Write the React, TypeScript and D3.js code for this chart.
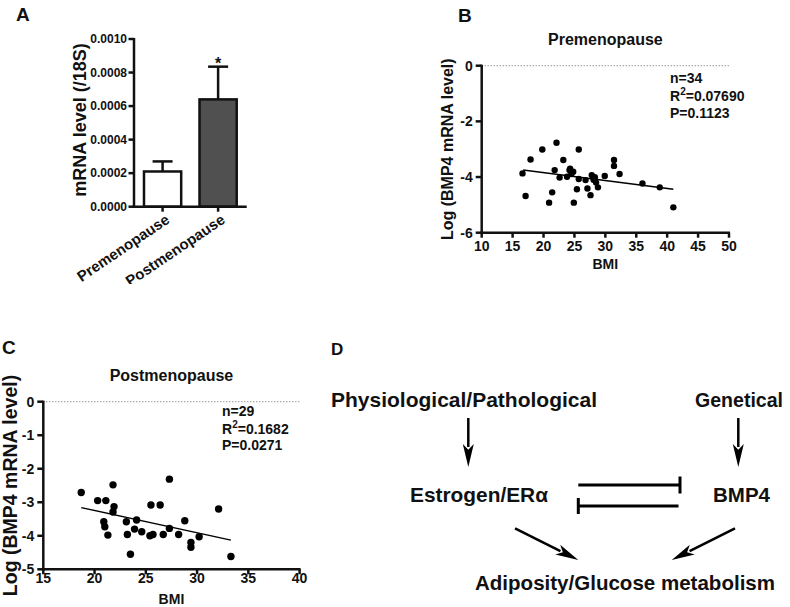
import React from 'react';
import * as d3 from 'd3';

const F = "'Liberation Sans', Arial, Helvetica, sans-serif";

// Panel A
const groupsA = ['Premenopause', 'Postmenopause'];
const meansA = [0.00021, 0.00064];
const errA = [0.00006, 0.000195];
const fillsA = ['#ffffff', '#505050'];
const ticksA = [0, 0.0002, 0.0004, 0.0006, 0.0008, 0.001];

// Panel B (premenopause)
const bmiPre = [16.6, 17.1, 17.9, 19.8, 22.1, 21.4, 20.9, 21.8, 22.6, 23.2, 23.8, 24.2, 24.8, 24.5, 24.9, 25.4, 25.7, 25.7, 26.8, 27.1, 27.6, 27.8, 28.3, 28.5, 28.8, 29.9, 31.4, 31.4, 32.3, 36.0, 38.8, 41.0, 24.3, 28.1];
const logPre = [-3.87, -4.68, -3.37, -3.01, -2.77, -4.55, -4.92, -3.75, -4.02, -3.39, -3.99, -3.75, -3.81, -3.89, -4.92, -4.44, -3.01, -4.07, -4.11, -4.41, -4.65, -3.93, -4.01, -4.2, -4.37, -3.96, -3.39, -3.6, -3.89, -4.23, -4.37, -5.09, -3.7, -4.1];
const fitPreX = [16.7, 41.0];
const fitPreY = [-3.75, -4.44];
const ticksPreX = [10, 15, 20, 25, 30, 35, 40, 45, 50];
const ticksPreY = [0, -2, -4, -6];
const statsPre = ['n=34', '0.07690', 'P=0.1123'];

// Panel C (postmenopause)
const bmiPost = [18.7, 20.3, 21.1, 21.8, 21.9, 21.8, 20.9, 21.0, 21.3, 23.1, 23.2, 23.5, 23.9, 24.1, 24.6, 25.5, 25.4, 25.7, 26.4, 26.7, 27.3, 27.3, 28.2, 28.8, 29.4, 29.4, 30.2, 32.1, 33.3];
const logPost = [-2.71, -2.95, -2.95, -2.48, -3.13, -3.29, -3.58, -3.73, -3.98, -3.58, -3.96, -4.55, -3.8, -3.53, -3.88, -3.08, -4.0, -3.96, -3.08, -3.96, -2.31, -3.78, -3.96, -3.55, -4.2, -4.34, -4.03, -3.2, -4.62];
const fitPostX = [18.7, 33.3];
const fitPostY = [-3.16, -4.13];
const ticksPostX = [15, 20, 25, 30, 35, 40];
const ticksPostY = [0, -1, -2, -3, -4, -5];
const statsPost = ['n=29', '0.1682', 'P=0.0271'];

type SP = {
  xs: number[]; ys: number[]; fitX: number[]; fitY: number[];
  xDomain: [number, number]; yDomain: [number, number];
  xRange: [number, number]; yRange: [number, number];
  xTicks: number[]; yTicks: number[];
  title: string; titleY: number; stats: string[]; statsX: number; statsYs: number[];
  yLabelX: number; yLabelSize: number; xLabelY: number; xTickY: number; r: number;
};

function Scatter(p: SP) {
  const x = d3.scaleLinear().domain(p.xDomain).range(p.xRange);
  const y = d3.scaleLinear().domain(p.yDomain).range(p.yRange);
  const [x0, x1] = p.xRange;
  const [yb, yt] = p.yRange;
  const fit = d3.line()(p.fitX.map((v, i) => [x(v), y(p.fitY[i])] as [number, number])) || '';
  const cx = (x0 + x1) / 2;
  const cy = (yb + yt) / 2;
  return (
    <g fontFamily={F} fontWeight="bold" fill="#111">
      <line x1={x0} x2={x1} y1={y(0)} y2={y(0)} stroke="#666" strokeWidth={1} strokeDasharray="1,2" />
      {p.yTicks.map(t => (
        <g key={'y' + t}>
          <line x1={x0 - 6} x2={x0} y1={y(t)} y2={y(t)} stroke="#111" strokeWidth={2.5} />
          <text x={x0 - 9} y={y(t)} dy="0.36em" textAnchor="end" fontSize={14}>{t === 0 ? '0' : '-' + Math.abs(t)}</text>
        </g>
      ))}
      {p.xTicks.map(t => (
        <g key={'x' + t}>
          <line x1={x(t)} x2={x(t)} y1={yb} y2={yb + 5} stroke="#111" strokeWidth={2.5} />
          <text x={x(t)} y={p.xTickY} textAnchor="middle" fontSize={14}>{t}</text>
        </g>
      ))}
      <line x1={x0} x2={x0} y1={yt - 1} y2={yb + 1.25} stroke="#111" strokeWidth={2.5} />
      <line x1={x0 - 1.25} x2={x1 + 1} y1={yb} y2={yb} stroke="#111" strokeWidth={2.5} />
      {p.xs.map((v, i) => (
        <circle key={i} cx={x(v)} cy={y(p.ys[i])} r={p.r} fill="#000" />
      ))}
      <path d={fit} stroke="#000" strokeWidth={1.5} fill="none" />
      <text x={cx} y={p.titleY} textAnchor="middle" fontSize={16}>{p.title}</text>
      <text x={cx} y={p.xLabelY} textAnchor="middle" fontSize={14}>BMI</text>
      <text transform={`translate(${p.yLabelX},${cy}) rotate(-90)`} textAnchor="middle" fontSize={p.yLabelSize}>Log (BMP4 mRNA level)</text>
      <text x={p.statsX} y={p.statsYs[0]} fontSize={14}>{p.stats[0]}</text>
      <text x={p.statsX} y={p.statsYs[1]} fontSize={14}>R<tspan dy={-6} fontSize={10}>2</tspan><tspan dy={6}>={p.stats[1]}</tspan></text>
      <text x={p.statsX} y={p.statsYs[2]} fontSize={14}>{p.stats[2]}</text>
    </g>
  );
}

function PanelA() {
  const y = d3.scaleLinear().domain([0, 0.001]).range([206.7, 39]);
  const x = d3.scaleBand().domain(groupsA).range([134, 246.7]).paddingInner(0.33).paddingOuter(0.18);
  const bw = x.bandwidth();
  const y0 = y(0);
  return (
    <g fontFamily={F} fontWeight="bold" fill="#111">
      <defs>
        <clipPath id="clipA"><rect x={0} y={0} width={300} height={284} /></clipPath>
      </defs>
      {ticksA.map(t => (
        <g key={t}>
          <line x1={128.5} x2={134} y1={y(t)} y2={y(t)} stroke="#111" strokeWidth={2.5} />
          <text x={127} y={y(t)} dy="0.36em" textAnchor="end" fontSize={12}>{t.toFixed(4)}</text>
        </g>
      ))}
      {groupsA.map((g, i) => {
        const bx = x(g) as number;
        const cx = bx + bw / 2;
        const top = y(meansA[i]);
        const et = y(meansA[i] + errA[i]);
        return (
          <g key={g}>
            <line x1={cx} x2={cx} y1={top} y2={et} stroke="#111" strokeWidth={2.5} />
            <line x1={cx - 10} x2={cx + 10} y1={et} y2={et} stroke="#111" strokeWidth={2.5} />
            <rect x={bx} y={top} width={bw} height={y0 - top} fill={fillsA[i]} stroke="#111" strokeWidth={2.5} />
            <line x1={cx} x2={cx} y1={y0} y2={y0 + 5} stroke="#111" strokeWidth={2.5} />
            <g clipPath="url(#clipA)">
              <text transform={`translate(${cx + 8},${222}) rotate(-34)`} textAnchor="end" fontSize={15}>{g}</text>
            </g>
          </g>
        );
      })}
      <text x={(x('Postmenopause') as number) + bw / 2} y={69} textAnchor="middle" fontSize={16}>*</text>
      <line x1={134} x2={134} y1={38} y2={y0 + 1.25} stroke="#111" strokeWidth={2.5} />
      <line x1={132.75} x2={246.7} y1={y0} y2={y0} stroke="#111" strokeWidth={2.5} />
      <text transform={`translate(86,120) rotate(-90)`} textAnchor="middle" fontSize={18}>mRNA level (/18S)</text>
    </g>
  );
}

function Arrow({ x1, y1, x2, y2 }: { x1: number; y1: number; x2: number; y2: number }) {
  const a = Math.atan2(y2 - y1, x2 - x1);
  const L = 23, W = 5.5;
  const bx = x2 - L * Math.cos(a), by = y2 - L * Math.sin(a);
  const px = -Math.sin(a) * W, py = Math.cos(a) * W;
  return (
    <g>
      <line x1={x1} y1={y1} x2={bx + 3 * Math.cos(a)} y2={by + 3 * Math.sin(a)} stroke="#000" strokeWidth={2.5} />
      <path d={`M${x2},${y2}L${bx + px},${by + py}L${bx + L * 0.25 * Math.cos(a)},${by + L * 0.25 * Math.sin(a)}L${bx - px},${by - py}Z`} fill="#000" />
    </g>
  );
}

function PanelD() {
  return (
    <g fontFamily={F} fontWeight="bold" fill="#111">
      <text x={331} y={355} fontSize={17}>D</text>
      <text x={331} y={407} fontSize={20.5} textLength={266} lengthAdjust="spacingAndGlyphs">Physiological/Pathological</text>
      <text x={695} y={407} fontSize={20.5} textLength={88} lengthAdjust="spacingAndGlyphs">Genetical</text>
      <Arrow x1={468.3} y1={418} x2={468.3} y2={467} />
      <Arrow x1={738.3} y1={418} x2={738.3} y2={467} />
      <text x={410} y={501.5} fontSize={20.5} textLength={138} lengthAdjust="spacingAndGlyphs">Estrogen/ERα</text>
      <text x={713} y={501.5} fontSize={20.5} textLength={57} lengthAdjust="spacingAndGlyphs">BMP4</text>
      <line x1={578.3} x2={680} y1={485} y2={485} stroke="#000" strokeWidth={3} />
      <line x1={680} x2={680} y1={476.5} y2={493.5} stroke="#000" strokeWidth={3} />
      <line x1={578.3} x2={678.5} y1={506} y2={506} stroke="#000" strokeWidth={3} />
      <line x1={578.3} x2={578.3} y1={498} y2={514} stroke="#000" strokeWidth={3} />
      <Arrow x1={515} y1={528.3} x2={578.3} y2={560} />
      <Arrow x1={735} y1={528.3} x2={671.7} y2={560} />
      <text x={475} y={590} fontSize={20.5} textLength={300} lengthAdjust="spacingAndGlyphs">Adiposity/Glucose metabolism</text>
    </g>
  );
}

export default function App() {
  return (
    <svg width={790} height={607} style={{ position: 'absolute', left: 0, top: 0, background: '#fff' }}>
      <rect x={0} y={0} width={790} height={607} fill="#fff" />
      <text x={16} y={21} fontFamily={F} fontWeight="bold" fontSize={19} fill="#111">A</text>
      <text x={458} y={22} fontFamily={F} fontWeight="bold" fontSize={19} fill="#111">B</text>
      <text x={2} y={354} fontFamily={F} fontWeight="bold" fontSize={19} fill="#111">C</text>
      <PanelA />
      <Scatter xs={bmiPre} ys={logPre} fitX={fitPreX} fitY={fitPreY}
        xDomain={[10, 50]} yDomain={[-6, 0]} xRange={[481.7, 729]} yRange={[232.7, 65.7]}
        xTicks={ticksPreX} yTicks={ticksPreY} title="Premenopause" titleY={45}
        stats={statsPre} statsX={670} statsYs={[83, 101, 118]}
        yLabelX={453} yLabelSize={16} xLabelY={269} xTickY={251} r={3.2} />
      <Scatter xs={bmiPost} ys={logPost} fitX={fitPostX} fitY={fitPostY}
        xDomain={[15, 40]} yDomain={[-5, 0]} xRange={[43.3, 299.6]} yRange={[569.3, 401.7]}
        xTicks={ticksPostX} yTicks={ticksPostY} title="Postmenopause" titleY={381}
        stats={statsPost} statsX={222} statsYs={[416, 434, 450]}
        yLabelX={17} yLabelSize={19.5} xLabelY={604} xTickY={583} r={3.7} />
      <PanelD />
    </svg>
  );
}
